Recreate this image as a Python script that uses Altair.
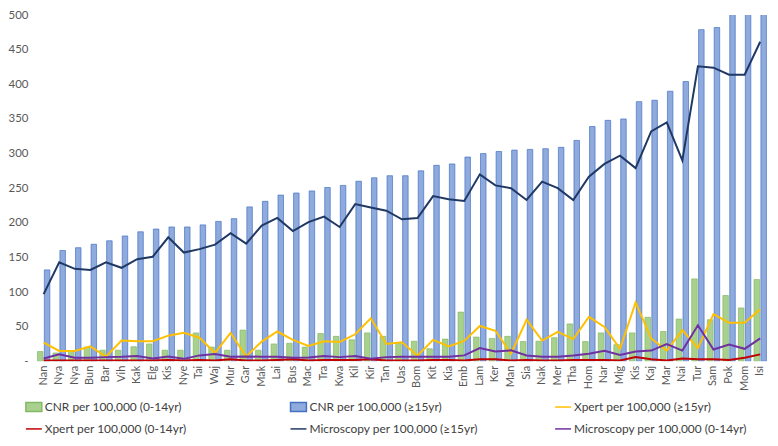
import altair as alt
import pandas as pd

districts = ["Nan", "Nya", "Nya", "Bun", "Bar", "Vih", "Kak", "Elg", "Kis", "Nye",
             "Tai", "Waj", "Mur", "Gar", "Mak", "Lai", "Bus", "Mac", "Tra", "Kwa",
             "Kil", "Kir", "Tan", "Uas", "Bom", "Kit", "Kia", "Emb", "Lam", "Ker",
             "Man", "Sia", "Nak", "Mer", "Tha", "Hom", "Nar", "Mig", "Kis", "Kaj",
             "Mar", "Nai", "Tur", "Sam", "Pok", "Mom", "Isi"]

cnr_child = [14, 12, 14.5, 20.5, 16, 16, 21, 25, 16, 16,
             41, 20.5, 16, 45, 16, 25, 26, 20.5, 40, 36,
             31, 41, 36, 26, 29, 18, 32, 71, 35, 33,
             36, 28.5, 29, 34, 54, 28.5, 41, 24, 41, 63.5,
             43, 61, 119, 60, 95, 77, 118]
cnr_adult = [132, 160, 164, 169, 174, 181, 187, 191, 194, 194,
             197, 202, 206, 223, 231, 240, 243, 246, 251, 254,
             260, 265, 268, 268, 275, 283, 285, 295, 300, 303,
             305, 306, 307, 309, 319, 339, 348, 350, 375, 377,
             390, 404, 479, 482, 515, 525, 545]
xpert_adult = [27, 15, 15, 21.5, 6.5, 30, 29, 29, 37, 41,
               34, 12, 41, 7, 28.5, 43, 31, 22, 29, 28,
               39, 62, 25, 27.5, 8, 31, 21.5, 29.5, 51, 44,
               11, 60, 30, 42.5, 32, 64, 49.5, 18, 85, 33,
               15.5, 45, 19, 68, 55.5, 55.5, 75]
xpert_child = [1, 1, 1, 1, 1, 1, 1, 1, 2, 1,
               2, 1, 3, 1, 1, 2, 3, 1, 2, 2,
               2, 3, 1, 1, 1, 2, 2, 1, 3, 3,
               1, 2, 1, 1, 2, 2, 2, 1, 6, 3,
               1, 4, 3, 3, 2, 5, 10]
micro_adult = [97, 143, 133.5, 132, 143, 135, 147.5, 151, 179, 157,
               162, 168.5, 185, 170, 196, 207, 188, 201, 209, 194,
               227, 222, 217.5, 205, 207, 238.5, 234, 231.5, 270, 254,
               250, 233, 259.5, 250, 233, 266.5, 285, 297, 279, 332,
               345, 290, 426, 424, 414, 414, 461.5]
micro_child = [4, 10, 5, 5, 6, 6.5, 7.5, 4, 7, 3.5,
               8.5, 10.5, 6.5, 7, 6.5, 6.5, 5, 5.5, 7.5, 6,
               7.5, 3.7, 6, 6.5, 6.5, 6.5, 6.5, 8.5, 19, 14,
               15.8, 8.4, 6.5, 6.5, 8.4, 11, 15, 9, 14, 15.4,
               25, 15.4, 52, 17, 24, 18, 33]

S_CC = "CNR per 100,000 (0-14yr)"
S_CA = "CNR per 100,000  (≥15yr)"
S_XA = "Xpert per 100,000 (≥15yr)"
S_XC = "Xpert per 100,000 (0-14yr)"
S_MA = "Microscopy per 100,000  (≥15yr)"
S_MC = "Microscopy per 100,000  (0-14yr)"

series_data = [(S_CC, cnr_child), (S_CA, cnr_adult), (S_XA, xpert_adult),
               (S_XC, xpert_child), (S_MA, micro_adult), (S_MC, micro_child)]

rows = []
for name, vals in series_data:
    for i, v in enumerate(vals):
        rows.append({"idx": i, "series": name, "value": v})
df = pd.DataFrame(rows)

FONT = "Lato"
label_expr = "[" + ",".join("'%s'" % n for n in districts) + "][datum.value]"

x_axis = alt.Axis(labelExpr=label_expr, labelAngle=-90, ticks=False, domain=False,
                  title=None, labelPadding=4, labelFont=FONT, labelFontSize=11,
                  labelColor="#595959")
y_axis = alt.Axis(values=list(range(0, 501, 50)), grid=False, domain=False, ticks=False,
                  title=None, labelExpr="datum.value == 0 ? '-' : datum.label",
                  labelPadding=8, labelFont=FONT, labelFontSize=11.5, labelColor="#595959")

x_scale = alt.Scale(paddingInner=0.16, paddingOuter=0.08)
y_scale = alt.Scale(domain=[0, 500], nice=False)
off_scale = alt.Scale(domain=[S_CC, S_CA], paddingInner=0.2, paddingOuter=0.05)

RECT = "M-1,-0.56H1V0.56H-1Z"
COLX = [-11, 255, 521]
ROWY = [385, 407]


def leg(col, row, sym):
    return alt.Legend(orient="none", legendX=COLX[col], legendY=ROWY[row], title=None,
                      symbolType=sym, symbolSize=256, labelOffset=2, labelLimit=400,
                      labelFont=FONT, labelFontSize=12, labelColor="#404040",
                      padding=0)


base = alt.Chart(df)


def bar_layer(name, fill, stroke, col, row):
    return base.transform_filter(alt.datum.series == name).mark_bar(
        clip=True, stroke=stroke, strokeWidth=0.7
    ).encode(
        x=alt.X("idx:O", scale=x_scale, axis=x_axis),
        xOffset=alt.XOffset("series:N", scale=off_scale),
        y=alt.Y("value:Q", scale=y_scale, axis=y_axis),
        color=alt.Color("series:N", scale=alt.Scale(domain=[name], range=[fill]),
                        legend=leg(col, row, RECT)),
    )


def line_layer(name, colr, col, row):
    return base.transform_filter(alt.datum.series == name).mark_line(
        clip=True, strokeWidth=2
    ).encode(
        x=alt.X("idx:O", scale=x_scale, axis=x_axis, bandPosition=0.5),
        y=alt.Y("value:Q", scale=y_scale, axis=y_axis),
        color=alt.Color("series:N", scale=alt.Scale(domain=[name], range=[colr]),
                        legend=leg(col, row, "stroke")),
    )


layers = [
    bar_layer(S_CC, "#A9D18E", "#84B865", 0, 0),
    bar_layer(S_CA, "#8FAADC", "#4472C4", 1, 0),
    line_layer(S_XA, "#FFC000", 2, 0),
    line_layer(S_XC, "#C00000", 0, 1),
    line_layer(S_MA, "#203864", 1, 1),
    line_layer(S_MC, "#7030A0", 2, 1),
]

chart = alt.layer(*layers).resolve_scale(color="independent").properties(
    width=736, height=348,
    autosize=alt.AutoSizeParams(type="none"),
    padding={"left": 28, "top": 6, "right": 2, "bottom": 76},
).configure_view(stroke=None)

chart.save("out.html", embed_options={"renderer": "svg", "actions": False})
